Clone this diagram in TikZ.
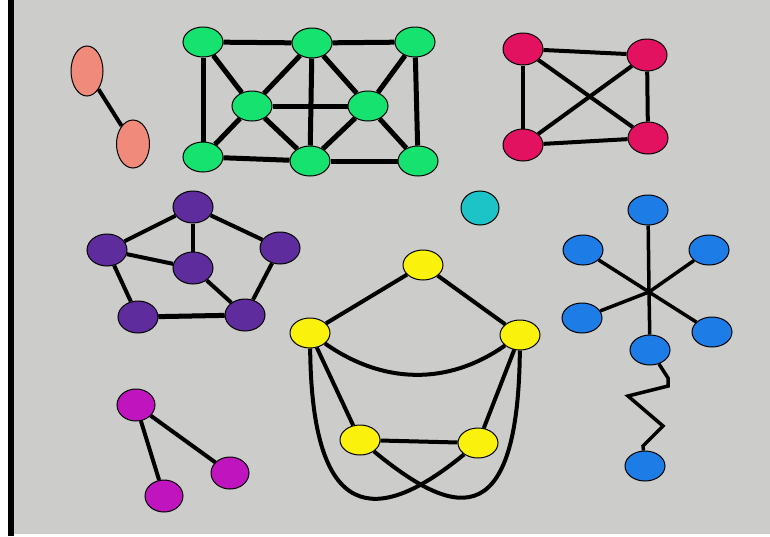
\documentclass[tikz,border=0pt]{standalone}
\usepackage{tikz}
\usetikzlibrary{backgrounds, shapes.geometric}
\definecolor{bggray}{RGB}{204,204,202}
\definecolor{vsalmon}{RGB}{240,138,122}
\definecolor{vgreen}{RGB}{22,226,112}
\definecolor{vcrimson}{RGB}{226,18,96}
\definecolor{vteal}{RGB}{28,196,200}
\definecolor{vindigo}{RGB}{94,44,156}
\definecolor{vmagenta}{RGB}{192,20,190}
\definecolor{vyellow}{RGB}{250,242,12}
\definecolor{vblue}{RGB}{30,124,230}
\tikzset{
	vert/.style={ellipse, draw=black, line width=1pt, minimum width=40pt, minimum height=30pt, inner sep=0pt}
}
\tikzset{
	edge/.style={line width=4pt}
}

\begin{document}
\begin{tikzpicture}[x=1pt, y=-1pt]
  \useasboundingbox (0,0) rectangle (770,536);
  % vertices
  \node[vert, fill=vsalmon, minimum width=32pt, minimum height=50pt] (sa) at (87,71) {};
  \node[vert, fill=vsalmon, minimum width=33pt, minimum height=48pt] (sb) at (133,144) {};
  \foreach \n/\x/\y in {tl/203/42, tm/312/43, tr/415/42, ml/252/106, mr/368/106, bl/203/157, bm/310/161, br/418/161}
    \node[vert, fill=vgreen] (g\n) at (\x,\y) {};
  \foreach \n/\x/\y in {tl/523/49, tr/647/55, bl/523/145, br/648/138}
    \node[vert, fill=vcrimson, minimum height=32pt] (c\n) at (\x,\y) {};
  \node[vert, fill=vteal, minimum width=38pt, minimum height=34pt] (tq) at (480,208) {};
  \foreach \n/\x/\y in {t/193/207, l/107/250, c/193/268, r/280/248, bl/138/317, br/245/315}
    \node[vert, fill=vindigo, minimum height=32pt] (p\n) at (\x,\y) {};
  \foreach \n/\x/\y in {t/136/405, bl/164/496, br/230/473}
    \node[vert, fill=vmagenta, minimum width=38pt, minimum height=32pt] (m\n) at (\x,\y) {};
  \foreach \n/\x/\y in {t/423/265, l/310/333, r/520/335, bl/360/440, br/478/443}
    \node[vert, fill=vyellow] (y\n) at (\x,\y) {};
  \foreach \n/\x/\y in {t/648/210, ul/583/250, ur/709/250, ll/582/318, lr/712/332, bc/650/350, bot/645/466}
    \node[vert, fill=vblue] (b\n) at (\x,\y) {};
  \coordinate (hub) at (649,292);

  % edges behind the vertices
  \begin{scope}[on background layer]
    \fill[bggray] (14,0) rectangle (770,534);
    \fill[black] (8,0) rectangle (14,536);
    \draw[edge] (sa) -- (sb);
    \foreach \a/\b in {tl/tm, tm/tr, bl/bm, bm/br, tl/bl, tr/br, tm/bm, ml/mr,
                       tl/ml, ml/tm, ml/bl, ml/bm, mr/tm, mr/tr, mr/bm, mr/br}
      \draw[edge, line width=5pt] (g\a) -- (g\b);
    \foreach \a/\b in {tl/tr, tl/bl, bl/br, tr/br, tl/br, tr/bl}
      \draw[edge] (c\a) -- (c\b);
    \foreach \a/\b in {t/l, t/c, t/r, l/c, l/bl, bl/br, c/br, r/br}
      \draw[edge] (p\a) -- (p\b);
    \draw[edge, line width=5pt] (pbl) -- (pbr);
    \foreach \a/\b in {t/bl, t/br}
      \draw[edge] (m\a) -- (m\b);
    \foreach \a/\b in {t/l, t/r, l/bl, r/br, bl/br}
      \draw[edge] (y\a) -- (y\b);
    \draw[edge] (yl) to[out=-35, in=-145] (yr);
    \draw[edge] (yl) .. controls +(2,208) and +(-88,72) .. (ybr);
    \draw[edge] (ybl) .. controls +(88,72) and +(-2,208) .. (yr);
    \foreach \n in {t, ul, ur, ll, lr, bc}
      \draw[edge, line width=3.5pt] (hub) -- (b\n);
    \draw[edge, line width=3.5pt] (bbc) -- ++(18,28) -- ++(0,8) -- ++(-40,10) -- ++(35,30) -- ++(-20,20) -- (bbot);
  \end{scope}
\end{tikzpicture}
\end{document}
